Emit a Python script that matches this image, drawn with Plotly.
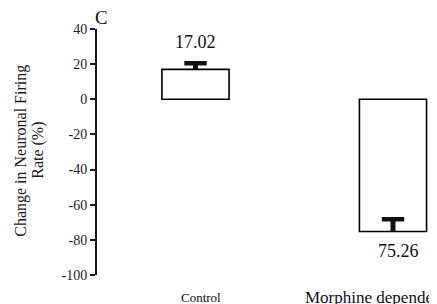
import plotly.graph_objects as go

categories = ["Control", "Morphine dependent"]
values = [17.02, -75.26]
errors = [3.5, 7.0]
value_labels = ["17.02", "75.26"]
y_ticks = [40, 20, 0, -20, -40, -60, -80, -100]
y_ticktext = ["40", "20", "0", "-20", "-40", "-60", "-80", "-100"]
y_title_lines = ["Change in Neuronal Firing", "Rate (%)"]

FONT = "Liberation Serif, Times New Roman, serif"
pos = list(range(len(categories)))

fig = go.Figure()
fig.add_trace(go.Bar(
    x=pos, y=values, width=0.34,
    marker=dict(color="white", line=dict(color="black", width=1.6)),
    cliponaxis=False, showlegend=False,
))

# error bars (one-sided, drawn toward zero)
for i, (v, e) in enumerate(zip(values, errors)):
    tip = v + e
    fig.add_trace(go.Scatter(
        x=[pos[i], pos[i]], y=[v, tip], mode="lines",
        line=dict(color="#111111", width=5), showlegend=False, cliponaxis=False,
    ))
    fig.add_trace(go.Scatter(
        x=[pos[i]], y=[tip], mode="markers",
        marker=dict(symbol="line-ew", size=16, line=dict(color="#111111", width=4.5)),
        showlegend=False, cliponaxis=False,
    ))

# value labels
fig.add_annotation(x=pos[0], y=values[0] + errors[0], text=value_labels[0],
                   showarrow=False, yshift=21, xshift=0, xanchor="center", yanchor="middle",
                   font=dict(family=FONT, size=18, color="#111"))
fig.add_annotation(x=pos[1], y=values[1], text=value_labels[1],
                   showarrow=False, yshift=-19, xshift=5, xanchor="center", yanchor="middle",
                   font=dict(family=FONT, size=18, color="#111"))

# category labels
fig.add_annotation(x=pos[0], y=-100, text=categories[0], showarrow=False,
                   xanchor="center", yanchor="middle",
                   yshift=-22, xshift=6, font=dict(family=FONT, size=13, color="#111"))
fig.add_annotation(x=pos[1], y=-100, text=categories[1], showarrow=False,
                   xanchor="left", yanchor="middle", yshift=-22, xshift=-90,
                   font=dict(family=FONT, size=17, color="#111"))

# panel letter
fig.add_annotation(xref="paper", yref="paper", x=0.012, y=1.045, text="C",
                   xanchor="center", yanchor="middle",
                   showarrow=False, font=dict(family=FONT, size=19, color="#111"))

# y title (two lines, tight spacing)
for line, px in zip(y_title_lines, [-0.2235, -0.1735]):
    fig.add_annotation(xref="paper", yref="paper", x=px, y=0.505,
                       xanchor="center", yanchor="middle",
                       text=line, textangle=-90,
                       showarrow=False, font=dict(family=FONT, size=16, color="#1a1a1a"))

fig.update_layout(
    width=437, height=304,
    margin=dict(l=89, r=8, t=21, b=37),
    paper_bgcolor="white", plot_bgcolor="white",
    font=dict(family=FONT, color="#1a1a1a"),
    xaxis=dict(range=[-0.4987, 1.2228], visible=False, fixedrange=True),
    yaxis=dict(range=[-100, 40], tickvals=y_ticks, ticktext=y_ticktext,
               showgrid=False, zeroline=False, showline=True, linecolor="#1a1a1a",
               linewidth=2, ticks="outside", ticklen=5, tickwidth=1.5,
               tickcolor="#1a1a1a", tickfont=dict(family=FONT, size=14, color="#1a1a1a")),
)

fig.write_html("out.html")
